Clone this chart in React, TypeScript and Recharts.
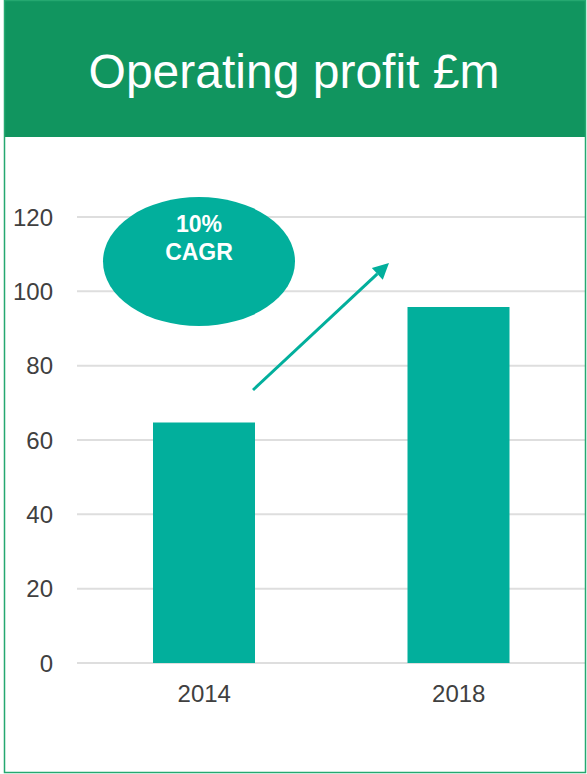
import { BarChart, Bar, XAxis, YAxis, CartesianGrid } from 'recharts';

const years = ['2014', '2018'];
const profit = [64.7, 95.8];
const yTicks = [0, 20, 40, 60, 80, 100, 120];
const title = 'Operating profit £m';
const badge = ['10%', 'CAGR'];

const data = years.map((year, i) => ({ year, profit: profit[i] }));

const TEAL = '#02af9c';
const GREEN = '#11955f';
const FONT = '"Liberation Sans", Arial, sans-serif';
const tick = { fill: '#404040', fontSize: 24, fontFamily: FONT };

export default function App() {
  // arrow from 2014 towards 2018
  const x1 = 253, y1 = 390, x2 = 389, y2 = 263;
  const ang = Math.atan2(y2 - y1, x2 - x1);
  const len = 16, half = 8;
  const bx = x2 - len * Math.cos(ang);
  const by = y2 - len * Math.sin(ang);
  const head = [
    [x2, y2],
    [bx + half * Math.sin(ang), by - half * Math.cos(ang)],
    [bx - half * Math.sin(ang), by + half * Math.cos(ang)],
  ]
    .map((p) => p.join(','))
    .join(' ');

  return (
    <div style={{ position: 'absolute', left: 0, top: 0, width: 587, height: 774, background: '#fff' }}>
      <BarChart
        width={587}
        height={774}
        data={data}
        margin={{ top: 217, right: 1, bottom: 81, left: 0 }}
        style={{ position: 'absolute', left: 0, top: 0 }}
      >
        <CartesianGrid vertical={false} stroke="#dedede" strokeWidth={2} />
        <XAxis
          dataKey="year"
          axisLine={false}
          tickLine={false}
          tickSize={0}
          tickMargin={22}
          height={30}
          tick={tick}
        />
        <YAxis
          domain={[0, 120]}
          ticks={yTicks}
          width={77}
          axisLine={false}
          tickLine={false}
          tickSize={0}
          tickMargin={24}
          tick={tick}
        />
        <Bar dataKey="profit" fill={TEAL} barSize={102} isAnimationActive={false} />
      </BarChart>
      <svg
        width={587}
        height={774}
        style={{ position: 'absolute', left: 0, top: 0, pointerEvents: 'none' }}
      >
        <rect x={4} y={0} width={582} height={137} fill={GREEN} />
        <text x={294} y={88} textAnchor="middle" fill="#fff" fontSize={48} fontFamily={FONT}>
          {title}
        </text>
        <rect x={4.5} y={0.5} width={581} height={772} fill="none" stroke="#25a870" strokeWidth={1.5} />
        <ellipse cx={199} cy={261.5} rx={96} ry={64.5} fill={TEAL} />
        <text x={199} y={232} textAnchor="middle" fill="#fff" fontSize={23} fontWeight="bold" fontFamily={FONT}>
          {badge[0]}
        </text>
        <text x={199} y={260} textAnchor="middle" fill="#fff" fontSize={23} fontWeight="bold" fontFamily={FONT}>
          {badge[1]}
        </text>
        <line x1={x1} y1={y1} x2={bx} y2={by} stroke={TEAL} strokeWidth={3} />
        <polygon points={head} fill={TEAL} />
      </svg>
    </div>
  );
}
